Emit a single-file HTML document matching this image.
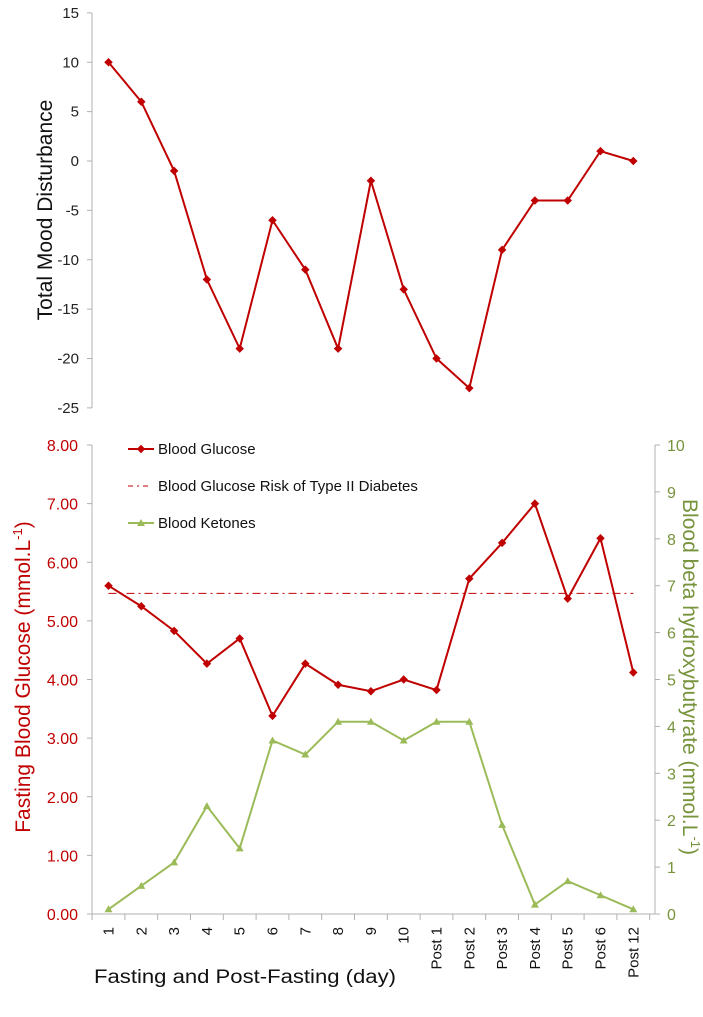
<!DOCTYPE html>
<html><head><meta charset="utf-8"><style>
body{margin:0;background:#fff;width:703px;height:1012px;overflow:hidden}
svg{font-family:"Liberation Sans",sans-serif}
</style></head><body>
<svg id="c" width="703" height="1012" xmlns="http://www.w3.org/2000/svg"></svg>
<script>
const categories=["1","2","3","4","5","6","7","8","9","10","Post 1","Post 2","Post 3","Post 4","Post 5","Post 6","Post 12"];
const mood=[10,6,-1,-12,-19,-6,-11,-19,-2,-13,-20,-23,-9,-4,-4,1,0];
const glucose=[5.6,5.25,4.83,4.27,4.7,3.38,4.27,3.91,3.8,4.0,3.82,5.72,6.33,7.0,5.38,6.41,4.12];
const ketones=[0.1,0.6,1.1,2.3,1.4,3.7,3.4,4.1,4.1,3.7,4.1,4.1,1.9,0.2,0.7,0.4,0.1];
const riskLevel=5.47;
const moodTicks=[15,10,5,0,-5,-10,-15,-20,-25];
const leftTicks=[0,1,2,3,4,5,6,7,8];
const rightTicks=[0,1,2,3,4,5,6,7,8,9,10];
const S="http://www.w3.org/2000/svg",svg=document.getElementById('c');
function mk(t,a,p){const e=document.createElementNS(S,t);for(const k in a)e.setAttribute(k,a[k]);(p||svg).appendChild(e);return e;}
const x0=108.5,dx=32.8;
const X=i=>x0+i*dx;
const Ym=v=>161-v*(395/40);
const Yg=v=>914-v*(469/8);
const Yk=v=>914-v*(469/10);
let e=mk('line',{x1:92,y1:13,x2:92,y2:408,stroke:'#b0b0b0'});

moodTicks.forEach(v=>{mk('line',{x1:87,y1:Ym(v),x2:92,y2:Ym(v),stroke:'#b0b0b0'});
 e=mk('text',{x:79,y:Ym(v)+5,'text-anchor':'end','font-size':15,fill:'#222'});e.textContent=v;
 });
e=mk('text',{transform:'translate(52,210) rotate(-90)','text-anchor':'middle','font-size':21,fill:'#111'});e.textContent='Total Mood Disturbance';

e=mk('polyline',{points:mood.map((v,i)=>X(i)+','+Ym(v)).join(' '),fill:'none',stroke:'#c00000','stroke-width':2});

mood.forEach((v,i)=>{e=mk('rect',{x:X(i)-3,y:Ym(v)-3,width:6,height:6,fill:'#c00000',transform:`rotate(45 ${X(i)} ${Ym(v)})`});
 });
e=mk('line',{x1:92,y1:445,x2:92,y2:914,stroke:'#b0b0b0'});
e=mk('line',{x1:655,y1:445,x2:655,y2:914,stroke:'#b0b0b0'});
e=mk('line',{x1:87,y1:914,x2:660,y2:914,stroke:'#b0b0b0'});
for(let i=0;i<=categories.length;i++)mk('line',{x1:X(i)-dx/2,y1:914,x2:X(i)-dx/2,y2:920,stroke:'#b0b0b0'});
leftTicks.forEach(v=>{mk('line',{x1:87,y1:Yg(v),x2:92,y2:Yg(v),stroke:'#b0b0b0'});
 e=mk('text',{x:78,y:Yg(v)+6,'text-anchor':'end','font-size':16,fill:'#c00000'});e.textContent=v.toFixed(2);
 });
rightTicks.forEach(v=>{mk('line',{x1:655,y1:Yk(v),x2:660,y2:Yk(v),stroke:'#b0b0b0'});
 e=mk('text',{x:667,y:Yk(v)+6,'font-size':16,fill:'#77933c'});e.textContent=v;
 });
categories.forEach((c,i)=>{e=mk('text',{transform:`translate(${X(i)+5},927) rotate(-90)`,'text-anchor':'end','font-size':15,fill:'#111'});e.textContent=c;
 });
e=mk('text',{x:94,y:983,'font-size':19,fill:'#111',textLength:302,lengthAdjust:'spacingAndGlyphs'});e.textContent='Fasting and Post-Fasting (day)';

e=mk('text',{transform:'translate(30,677) rotate(-90)','text-anchor':'middle','font-size':21,fill:'#c00000'});
e.innerHTML='Fasting Blood Glucose (mmol.L<tspan font-size="13" dy="-8">-1</tspan><tspan dy="8">)</tspan>';

e=mk('text',{transform:'translate(683,677) rotate(90)','text-anchor':'middle','font-size':21,fill:'#77933c'});
e.innerHTML='Blood beta hydroxybutyrate (mmol.L<tspan font-size="13" dy="-8">-1</tspan><tspan dy="8">)</tspan>';

e=mk('line',{x1:X(0),y1:Yg(riskLevel),x2:X(16),y2:Yg(riskLevel),stroke:'#c00000','stroke-width':1,'stroke-dasharray':'8,4,2,4'});

e=mk('polyline',{points:glucose.map((v,i)=>X(i)+','+Yg(v)).join(' '),fill:'none',stroke:'#c00000','stroke-width':2});

glucose.forEach((v,i)=>{e=mk('rect',{x:X(i)-3,y:Yg(v)-3,width:6,height:6,fill:'#c00000',transform:`rotate(45 ${X(i)} ${Yg(v)})`});
 });
e=mk('polyline',{points:ketones.map((v,i)=>X(i)+','+Yk(v)).join(' '),fill:'none',stroke:'#9bbb59','stroke-width':2});

ketones.forEach((v,i)=>{const x=X(i),y=Yk(v);e=mk('polygon',{points:`${x},${y-4} ${x-4},${y+3} ${x+4},${y+3}`,fill:'#9bbb59'});
 });
const leg=[['Blood Glucose','#c00000','d',449],['Blood Glucose Risk of Type II Diabetes','#c00000','dash',486],['Blood Ketones','#9bbb59','t',523]];
leg.forEach(([t,c,m,y])=>{const g=mk('g',{});
 if(m==='dash')mk('line',{x1:128,y1:y,x2:152,y2:y,stroke:c,'stroke-dasharray':'5,4,2,4'},g);
 else{mk('line',{x1:128,y1:y,x2:154,y2:y,stroke:c,'stroke-width':2},g);
  if(m==='d')mk('rect',{x:138,y:y-3,width:6,height:6,fill:c,transform:`rotate(45 141 ${y})`},g);
  else mk('polygon',{points:`141,${y-4} 137,${y+3} 145,${y+3}`,fill:c},g);}
 const tx=mk('text',{x:158,y:y+5,'font-size':15,fill:'#111'},g);tx.textContent=t;});
</script>
</body></html>
